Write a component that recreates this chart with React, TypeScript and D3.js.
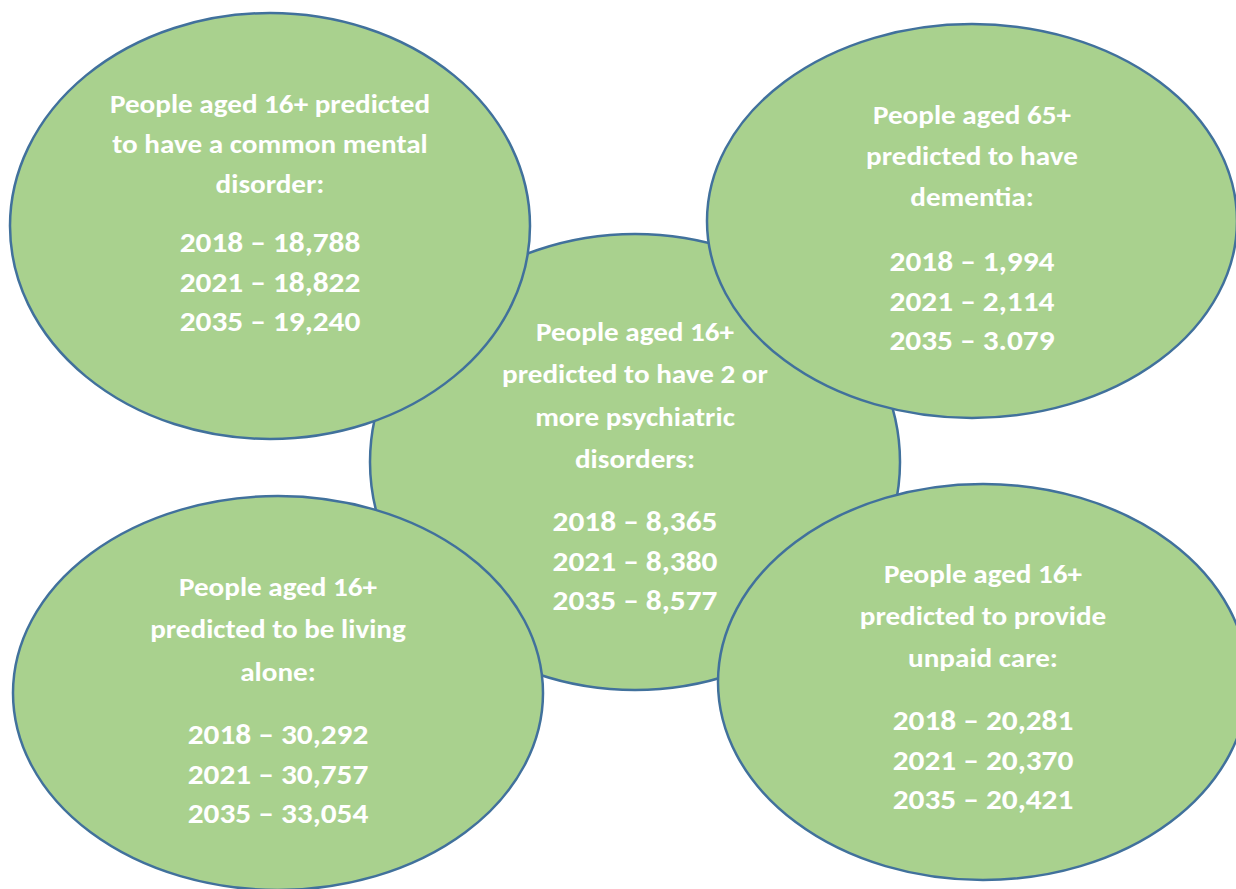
import React from 'react';
import * as d3 from 'd3';

// headings, one entry per bubble, broken the way they are in the picture
const headings: string[][] = [
  ['People aged 16+', 'predicted to have 2 or', 'more psychiatric', 'disorders:'],
  ['People aged 16+ predicted', 'to have a common mental', 'disorder:'],
  ['People aged 65+', 'predicted to have', 'dementia:'],
  ['People aged 16+', 'predicted to be living', 'alone:'],
  ['People aged 16+', 'predicted to provide', 'unpaid care:'],
];

const years = ['2018', '2021', '2035'];

const psychiatric = ['8,365', '8,380', '8,577'];
const commonMental = ['18,788', '18,822', '19,240'];
const dementia = ['1,994', '2,114', '3.079'];
const livingAlone = ['30,292', '30,757', '33,054'];
const unpaidCare = ['20,281', '20,370', '20,421'];

const values = [psychiatric, commonMental, dementia, livingAlone, unpaidCare];

// ellipse geometry, same order as headings (centre one is drawn first, under the rest)
// hy / ny = middle of first heading line / first number line
const shapes = [
  { cx: 635, cy: 462, rx: 265, ry: 228, hy: 332, ny: 522, hg: 42.3 },
  { cx: 270, cy: 226, rx: 260, ry: 213, hy: 104, ny: 243, hg: 40 },
  { cx: 972, cy: 221, rx: 265, ry: 197, hy: 115, ny: 262, hg: 41 },
  { cx: 278, cy: 693, rx: 265, ry: 197, hy: 587, ny: 735, hg: 42.5 },
  { cx: 983, cy: 682, rx: 265, ry: 198, hy: 574, ny: 721, hg: 42 },
];

const width = 1236;
const height = 889;
const numGap = 39.3;
const stretch = 1.1; // Lato is set narrower than the Calibri in the picture

const font = 'Carlito, Calibri, Lato, sans-serif';

const App = () => {
  const fmt = (y: string, v: string) => `${y} \u2013 ${v}`;

  return (
    <svg width={width} height={height} style={{ position: 'absolute', left: 0, top: 0, background: '#fff' }}>
      {shapes.map((s, i) => (
        <ellipse key={`e${i}`} cx={s.cx} cy={s.cy} rx={s.rx} ry={s.ry}
          fill="#a9d18e" stroke="#41719c" strokeWidth={2.5} />
      ))}
      {shapes.map((s, i) => (
        <g key={`t${i}`} transform={`translate(${s.cx},0) scale(${stretch},1)`}
          fill="#fff" fontFamily={font} fontWeight={700} textAnchor="middle">
          {headings[i].map((line, j) => (
            <text key={j} x={0} y={s.hy + j * s.hg} dy={9} fontSize={26.5}>{line}</text>
          ))}
          {d3.range(years.length).map(k => (
            <text key={`n${k}`} x={0} y={s.ny + k * numGap} dy={9.5} fontSize={28.5}>
              {fmt(years[k], values[i][k])}
            </text>
          ))}
        </g>
      ))}
    </svg>
  );
};

export default App;
